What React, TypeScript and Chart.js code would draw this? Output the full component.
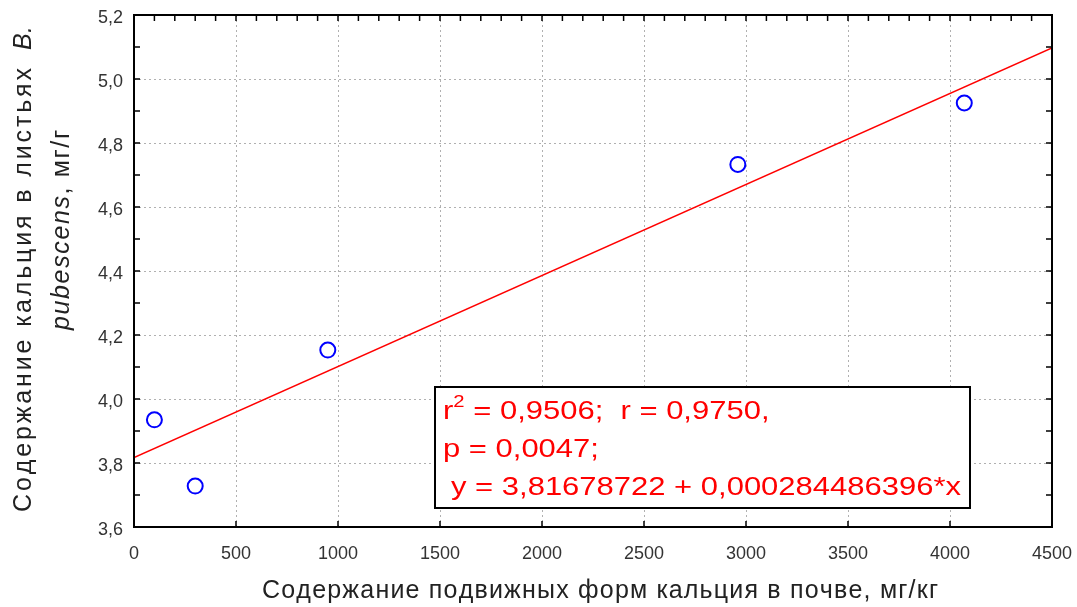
import React, { useEffect, useRef } from "react";
import { Chart, registerables } from "chart.js";

Chart.register(...registerables);

// ---- data ----
const SOIL_CA = [100, 300, 950, 2960, 4070];
const LEAF_CA = [3.935, 3.728, 4.153, 4.733, 4.925];
const FIT_X = [0, 4500];
const FIT_Y = [3.8168, 5.097];
const X_TICKS = [0, 500, 1000, 1500, 2000, 2500, 3000, 3500, 4000, 4500];
const Y_TICKS = [3.6, 3.8, 4.0, 4.2, 4.4, 4.6, 4.8, 5.0, 5.2];
const X_TITLE = "Содержание подвижных форм кальция в почве, мг/кг";
const Y_TITLE_MAIN = "Содержание кальция в листьях";
const Y_TITLE_GENUS = "B.";
const Y_TITLE_SPECIES = "pubescens";
const Y_TITLE_UNIT = ", мг/г";
const STAT_R2 = "0,9506";
const STAT_R = "0,9750";
const STAT_P = "0,0047";
const STAT_EQ = "y = 3,81678722 + 0,000284486396*x";

const FF = "Arial, 'Liberation Sans', sans-serif";

type Seg = { t: string; italic?: boolean; size: number; dy?: number };

function segFont(s: Seg) {
  return `${s.italic ? "italic " : ""}${s.size}px ${FF}`;
}

function drawSpaced(ctx: CanvasRenderingContext2D, segs: Seg[], x: number, y: number, target: number) {
  const chars: { ch: string; s: Seg; w: number }[] = [];
  for (const s of segs) {
    ctx.font = segFont(s);
    for (const ch of s.t) chars.push({ ch, s, w: ctx.measureText(ch).width });
  }
  const nat = chars.reduce((a, c) => a + c.w, 0);
  const extra = chars.length > 1 ? (target - nat) / (chars.length - 1) : 0;
  let cx = x;
  for (const c of chars) {
    ctx.font = segFont(c.s);
    ctx.fillText(c.ch, cx, y + (c.s.dy || 0));
    cx += c.w + extra;
  }
}

function segsWidth(ctx: CanvasRenderingContext2D, segs: Seg[]) {
  let w = 0;
  for (const s of segs) {
    ctx.font = segFont(s);
    w += ctx.measureText(s.t).width;
  }
  return w;
}

function drawScaled(ctx: CanvasRenderingContext2D, segs: Seg[], x: number, y: number, sx: number) {
  ctx.save();
  ctx.translate(x, y);
  ctx.scale(sx, 1);
  let cx = 0;
  for (const s of segs) {
    ctx.font = segFont(s);
    ctx.fillText(s.t, cx, s.dy || 0);
    cx += ctx.measureText(s.t).width;
  }
  ctx.restore();
}

const decorPlugin = {
  id: "decor",
  beforeDatasetsDraw(chart: any) {
    const { ctx, chartArea: a, scales } = chart;
    ctx.save();
    ctx.strokeStyle = "#b0b0b0";
    ctx.lineWidth = 1;
    ctx.setLineDash([2, 3]);
    for (const v of X_TICKS) {
      const px = Math.round(scales.x.getPixelForValue(v)) + 0.5;
      if (px <= a.left + 2 || px >= a.right - 2) continue;
      ctx.beginPath();
      ctx.moveTo(px, a.top);
      ctx.lineTo(px, a.bottom);
      ctx.stroke();
    }
    for (const v of Y_TICKS) {
      const py = Math.round(scales.y.getPixelForValue(v)) + 0.5;
      if (py <= a.top + 2 || py >= a.bottom - 2) continue;
      ctx.beginPath();
      ctx.moveTo(a.left, py);
      ctx.lineTo(a.right, py);
      ctx.stroke();
    }
    ctx.restore();
  },
  afterDraw(chart: any) {
    const { ctx, chartArea: a, scales } = chart;
    const xs = scales.x;
    const ys = scales.y;
    ctx.save();
    // frame
    ctx.strokeStyle = "#000";
    ctx.lineWidth = 2;
    ctx.setLineDash([]);
    ctx.strokeRect(a.left, a.top, a.right - a.left, a.bottom - a.top);

    // inward ticks
    ctx.lineWidth = 1.5;
    const TL = 6;
    for (const v of X_TICKS) {
      const px = xs.getPixelForValue(v);
      ctx.beginPath();
      ctx.moveTo(px, a.bottom);
      ctx.lineTo(px, a.bottom - TL);
      ctx.stroke();
    }
    for (let v = 0; v <= 4500; v += 100) {
      const px = xs.getPixelForValue(v);
      ctx.beginPath();
      ctx.moveTo(px, a.top);
      ctx.lineTo(px, a.top + TL);
      ctx.stroke();
    }
    for (let i = 0; i <= 16; i++) {
      const py = ys.getPixelForValue(3.6 + i * 0.1);
      ctx.beginPath();
      ctx.moveTo(a.left, py);
      ctx.lineTo(a.left + TL, py);
      ctx.moveTo(a.right, py);
      ctx.lineTo(a.right - TL, py);
      ctx.stroke();
    }

    // stats box
    ctx.fillStyle = "#fff";
    ctx.fillRect(435, 387, 535, 121);
    ctx.strokeStyle = "#000";
    ctx.lineWidth = 2;
    ctx.strokeRect(435, 387, 535, 121);

    ctx.fillStyle = "#ff0000";
    ctx.textBaseline = "alphabetic";
    ctx.textAlign = "left";
    const FS = 26;
    const eqSegs: Seg[] = [{ t: STAT_EQ, size: FS }];
    const sx = 510 / segsWidth(ctx, eqSegs);
    drawScaled(
      ctx,
      [
        { t: "r", size: FS },
        { t: "2", size: 17, dy: -12 },
        { t: " = " + STAT_R2 + ";  r = " + STAT_R + ",", size: FS },
      ],
      443,
      419,
      sx
    );
    drawScaled(ctx, [{ t: "p = " + STAT_P + ";", size: FS }], 443, 457, sx);
    drawScaled(ctx, eqSegs, 451, 495, sx);

    // titles
    ctx.fillStyle = "#222";
    ctx.textBaseline = "alphabetic";
    drawSpaced(ctx, [{ t: X_TITLE, size: 25 }], 262, 598, 676);

    ctx.textBaseline = "middle";
    ctx.save();
    ctx.translate(24, 512);
    ctx.rotate(-Math.PI / 2);
    drawSpaced(ctx, [{ t: Y_TITLE_MAIN, size: 25 }], 0, 0, 444);
    drawSpaced(ctx, [{ t: Y_TITLE_GENUS, size: 25, italic: true }], 462, 0, 24);
    ctx.restore();

    ctx.save();
    ctx.translate(62, 330);
    ctx.rotate(-Math.PI / 2);
    drawSpaced(
      ctx,
      [
        { t: Y_TITLE_SPECIES, size: 25, italic: true },
        { t: Y_TITLE_UNIT, size: 25 },
      ],
      0,
      0,
      200
    );
    ctx.restore();

    ctx.restore();
  },
};

export default function App() {
  const ref = useRef<HTMLCanvasElement | null>(null);

  useEffect(() => {
    document.body.style.margin = "0";
    const canvas = ref.current;
    if (!canvas) return;
    const chart = new Chart(canvas, {
      type: "scatter",
      data: {
        datasets: [
          {
            type: "scatter",
            data: SOIL_CA.map((x, i) => ({ x, y: LEAF_CA[i] })),
            pointStyle: "circle",
            pointRadius: 7.5,
            pointBorderWidth: 2,
            borderColor: "#0000ff",
            backgroundColor: "rgba(0,0,0,0)",
            pointBackgroundColor: "rgba(0,0,0,0)",
            pointBorderColor: "#0000ff",
            order: 0,
          } as any,
          {
            type: "line",
            data: FIT_X.map((x, i) => ({ x, y: FIT_Y[i] })),
            borderColor: "#ff0000",
            borderWidth: 1.6,
            pointRadius: 0,
            fill: false,
            tension: 0,
            order: 1,
          } as any,
        ],
      },
      options: {
        responsive: false,
        animation: false,
        layout: { padding: { left: 0, right: 25, top: 15, bottom: 0 } },
        plugins: {
          legend: { display: false },
          tooltip: { enabled: false },
        },
        scales: {
          x: {
            type: "linear",
            min: 0,
            max: 4500,
            grid: { display: false, drawTicks: false },
            border: { display: false },
            ticks: {
              stepSize: 500,
              autoSkip: false,
              maxRotation: 0,
              padding: 16,
              color: "#333",
              font: { family: FF, size: 18 },
              callback: (v: any) => String(v),
            },
            afterFit: (s: any) => {
              s.height = 80;
              s.paddingLeft = 0;
              s.paddingRight = 0;
            },
          },
          y: {
            type: "linear",
            min: 3.6,
            max: 5.2,
            grid: { display: false, drawTicks: false },
            border: { display: false },
            ticks: {
              stepSize: 0.2,
              autoSkip: false,
              padding: 11,
              labelOffset: 3,
              color: "#333",
              font: { family: FF, size: 18 },
              callback: (v: any) => Number(v).toFixed(1).replace(".", ","),
            },
            afterFit: (s: any) => {
              s.width = 134;
              s.paddingTop = 0;
              s.paddingBottom = 0;
            },
          },
        },
      } as any,
      plugins: [decorPlugin],
    });
    return () => chart.destroy();
  }, []);

  return (
    <div style={{ width: 1077, height: 607, background: "#fff" }}>
      <canvas ref={ref} width={1077} height={607} style={{ display: "block" }} />
    </div>
  );
}
